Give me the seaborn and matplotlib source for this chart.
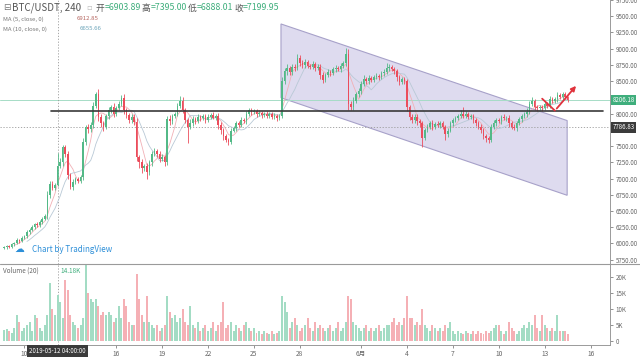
import numpy as np
import pandas as pd
import matplotlib
matplotlib.use("Agg")
import matplotlib.pyplot as plt
import matplotlib.transforms as mtransforms
from matplotlib.patches import Polygon
import seaborn as sns

# ---------------- data (4h candles, BTC/USDT) ----------------
first_open = 5930
closes = [
    5940, 5960, 5950, 5985, 6010, 6050, 6040, 6090, 6110, 6180,
    6210, 6260, 6300, 6280, 6330, 6380, 6420, 6750, 6920, 6860,
    6903.89, 7199.95, 7250, 7480, 7380, 7050, 6870, 6950, 6990, 6970,
    7030, 7560, 7790, 7760, 7830, 8120, 8300, 7950, 7850, 7800,
    7960, 8050, 8100, 8000, 8080, 8150, 8245, 8050, 7980, 7900,
    7950, 7870, 7325, 7250, 7170, 7200, 7100, 7250, 7380, 7430,
    7380, 7300, 7330, 7250, 7920, 7880, 7960, 8000, 8120, 8200,
    8050, 7900, 7800, 7860, 7920, 7880, 7950, 7930, 7960, 7900,
    7950, 7980, 7940, 7970, 7820, 7750, 7650, 7600, 7570, 7740,
    7780, 7850, 7830, 7900, 7880, 8000, 8050, 8020, 8040, 7990,
    8010, 7980, 8000, 7970, 8000, 7950, 7970, 7930, 7960, 8500,
    8650, 8700, 8640, 8720, 8700, 8860, 8780, 8750, 8800, 8730,
    8720, 8760, 8700, 8720, 8600, 8520, 8600, 8640, 8620, 8680,
    8700, 8680, 8740, 8780, 8920, 8150, 8100, 8200, 8300, 8350,
    8460, 8540, 8500, 8550, 8520, 8560, 8580, 8560, 8620, 8640,
    8700, 8720, 8680, 8650, 8560, 8480, 8530, 8500, 8100, 7950,
    7900, 7950, 7880, 7850, 7630, 7750, 7800, 7850, 7800, 7840,
    7820, 7850, 7800, 7680, 7740, 7850, 7900, 7940, 7960, 8000,
    7970, 8000, 7950, 7960, 7900, 7860, 7800, 7750, 7650, 7620,
    7600, 7800, 7850, 7900, 7880, 7950, 7930, 7940, 7850, 7800,
    7780, 7850, 7910, 7960, 7990, 8030, 8150, 8200, 8100, 8080,
    8100, 8080, 8150, 8120, 8230, 8200, 8220, 8280, 8250, 8300,
    8250, 8206.18]
upper_wick = [
    20, 15, 20, 25, 20, 30, 20, 25, 20, 30,
    25, 30, 20, 30, 25, 30, 40, 60, 40, 50,
    30, 195.05, 60, 30, 40, 50, 30, 40, 30, 40,
    30, 60, 40, 50, 40, 60, 30, 80, 40, 30,
    40, 50, 40, 60, 30, 40, 45, 50, 40, 30,
    40, 50, 60, 40, 50, 30, 40, 40, 50, 40,
    30, 40, 50, 30, 40, 60, 40, 30, 50, 70,
    60, 40, 30, 50, 40, 30, 50, 30, 40, 30,
    40, 30, 40, 30, 40, 50, 30, 40, 30, 40,
    30, 40, 30, 50, 30, 40, 30, 40, 30, 30,
    40, 30, 30, 40, 30, 30, 40, 30, 30, 60,
    50, 60, 40, 50, 40, 60, 40, 50, 40, 30,
    40, 50, 30, 40, 50, 40, 30, 40, 30, 40,
    50, 30, 40, 30, 90, 80, 40, 50, 40, 50,
    40, 50, 30, 40, 30, 40, 50, 30, 40, 50,
    80, 40, 30, 40, 30, 40, 30, 40, 30, 40,
    40, 50, 40, 30, 40, 30, 40, 30, 50, 30,
    40, 30, 40, 30, 40, 30, 40, 30, 40, 50,
    100, 40, 30, 40, 30, 40, 30, 40, 30, 40,
    30, 40, 50, 30, 40, 30, 40, 30, 40, 30,
    40, 30, 40, 30, 40, 50, 40, 60, 30, 40,
    30, 40, 50, 30, 40, 30, 40, 50, 30, 40,
    30, 20]
lower_wick = [
    20, 30, 20, 15, 25, 20, 30, 20, 25, 20,
    30, 20, 30, 25, 20, 30, 20, 40, 50, 40,
    40, 15.88, 40, 60, 50, 60, 30, 40, 30, 40,
    40, 50, 40, 60, 40, 50, 40, 60, 50, 60,
    40, 50, 40, 50, 40, 30, 40, 50, 40, 50,
    40, 50, 60, 80, 90, 60, 100, 40, 50, 40,
    50, 40, 30, 50, 40, 50, 40, 30, 40, 30,
    40, 50, 260, 40, 50, 40, 30, 40, 30, 40,
    30, 40, 30, 40, 50, 60, 50, 40, 50, 40,
    30, 40, 30, 40, 30, 40, 30, 40, 30, 40,
    30, 40, 30, 40, 30, 40, 30, 40, 30, 20,
    40, 50, 40, 50, 40, 30, 40, 50, 40, 30,
    40, 30, 40, 30, 60, 50, 40, 30, 40, 30,
    40, 30, 40, 30, 40, 100, 50, 40, 30, 40,
    50, 40, 50, 40, 30, 40, 30, 40, 30, 40,
    30, 40, 30, 40, 50, 40, 30, 40, 60, 50,
    50, 40, 50, 60, 150, 40, 30, 40, 50, 40,
    30, 40, 40, 90, 40, 30, 40, 30, 40, 30,
    40, 30, 40, 30, 40, 50, 40, 50, 40, 50,
    60, 40, 30, 40, 30, 40, 30, 40, 50, 40,
    30, 40, 30, 40, 30, 40, 30, 40, 50, 40,
    30, 40, 30, 40, 30, 40, 30, 40, 30, 40,
    30, 20]
volume_k = [
    3.5, 3.8, 3.0, 2.5, 4.0, 8.0, 6.0, 3.0, 4.0, 5.0,
    6.0, 3.0, 8.0, 7.0, 4.0, 3.0, 5.0, 8.0, 18.0, 10.0,
    8.0, 14.18, 12.0, 7.0, 19.0, 16.0, 8.0, 6.0, 5.0, 4.0,
    5.0, 7.0, 24.0, 15.0, 13.0, 12.0, 13.0, 11.0, 8.0, 9.0,
    8.0, 9.0, 8.0, 6.0, 7.0, 11.0, 7.0, 13.0, 11.0, 6.0,
    5.0, 5.0, 21.0, 13.0, 8.0, 6.0, 14.0, 6.0, 5.0, 4.0,
    5.0, 3.0, 4.0, 5.0, 14.0, 9.0, 7.0, 8.0, 6.0, 7.0,
    10.0, 6.0, 5.0, 11.0, 5.0, 4.0, 6.0, 3.0, 4.0, 5.0,
    3.0, 4.0, 6.0, 3.0, 5.0, 6.0, 12.0, 4.0, 5.0, 6.0,
    3.0, 5.0, 4.0, 3.0, 5.0, 6.0, 4.0, 3.0, 4.0, 2.5,
    3.0, 2.0, 3.0, 2.5, 2.0, 3.0, 2.0, 2.5, 3.0, 14.0,
    12.0, 9.0, 4.0, 6.0, 7.0, 5.0, 3.0, 4.0, 5.0, 7.0,
    4.0, 3.0, 6.0, 4.0, 5.0, 4.0, 3.0, 4.0, 5.0, 3.0,
    4.0, 6.0, 3.0, 4.0, 6.0, 14.0, 13.0, 6.0, 5.0, 4.0,
    3.0, 4.0, 5.0, 3.0, 4.0, 3.0, 4.0, 5.0, 3.0, 4.0,
    5.0, 5.0, 6.0, 7.0, 5.0, 6.0, 5.0, 7.0, 14.0, 7.0,
    7.0, 5.0, 6.0, 5.0, 10.0, 5.0, 4.0, 3.0, 5.0, 4.0,
    3.0, 4.0, 3.0, 5.0, 4.0, 6.0, 3.0, 2.0, 3.0, 2.5,
    2.0, 3.0, 2.5, 2.0, 3.0, 2.0, 3.0, 2.5, 2.0, 3.0,
    2.5, 3.0, 4.0, 5.0, 5.0, 3.0, 2.0, 3.0, 6.0, 4.0,
    3.0, 2.0, 3.0, 4.0, 5.0, 4.0, 6.0, 5.0, 8.0, 4.0,
    3.0, 8.0, 5.0, 4.0, 3.0, 4.0, 3.0, 8.0, 3.0, 3.0,
    3.0, 2.0]

price_ticks = [5750, 6000, 6250, 6500, 6750, 7000, 7250, 7500,
               8000, 8500, 8750, 9000, 9250, 9500, 9750]
volume_ticks = [0, 5000, 10000, 15000, 20000]
volume_tick_labels = ["0", "5K", "10K", "15K", "20K"]
day_tick_index = [8, 44, 62, 80, 98, 116, 140, 158, 176, 194, 212, 230]
day_tick_labels = ["10", "16", "19", "22", "25", "28", "6月", "4", "7", "10", "13", "16"]

support_price = 8040
support_span = [18.4, 234.9]
channel_index = [108.6, 220.8]
channel_upper = [9381, 7893]
channel_lower = [8245, 6742]
arrow_index = [211, 216, 225]
arrow_price = [8230, 8046, 8460]
last_price = 8206.18
cross_index = 21
cross_price = 7786.83
cross_label = "2019-05-12 04:00:00"
header_ohlc = [("开", "6903.89"), ("高", "7395.00"), ("低", "6888.01"), ("收", "7199.95")]
ma5_value, ma10_value, vol_value = "6912.85", "6655.66", "14.18K"

# ---------------- derived frame ----------------
n = len(closes)
idx = np.arange(n)
df = pd.DataFrame({"idx": idx, "close": closes})
df["open"] = [first_open] + closes[:-1]
df["high"] = np.maximum(df["open"], df["close"]) + np.array(upper_wick)
df["low"] = np.minimum(df["open"], df["close"]) - np.array(lower_wick)
df["vol"] = np.array(volume_k) * 1000
df["dir"] = np.where(df["close"] >= df["open"], "up", "down")
df["ma5"] = df["close"].rolling(5).mean()
df["ma10"] = df["close"].rolling(10).mean()

UP, DOWN = "#53b987", "#eb4d5c"
UP_V, DOWN_V = "#a3dcc4", "#f5b0b5"

sns.set_theme(style="white")
plt.rcParams["font.family"] = ["Noto Sans CJK SC", "DejaVu Sans"]

W, H = 640, 357
fig = plt.figure(figsize=(6.4, 3.57), dpi=100)
ax = fig.add_axes([0, 1 - 264 / H, 610 / W, 264 / H])
axv = fig.add_axes([0, 1 - 345 / H, 610 / W, (345 - 264) / H], sharex=ax)

xlim = (-1.57, 237.6)

# channel
poly = Polygon([(channel_index[0], channel_upper[0]), (channel_index[1], channel_upper[1]),
                (channel_index[1], channel_lower[1]), (channel_index[0], channel_lower[0])],
               closed=True, facecolor="#dedbef", edgecolor="#a7a1c9", lw=0.8, zorder=1)
ax.add_patch(poly)

# reference lines
ax.axhline(last_price, color="#a6dcc6", lw=0.7, zorder=2)
ax.axhline(cross_price, color="#9a9a9a", lw=0.6, ls=(0, (1.5, 2)), zorder=2)
ax.axvline(cross_index, color="#9a9a9a", lw=0.6, ls=(0, (1.5, 2)), zorder=2)
axv.axvline(cross_index, color="#9a9a9a", lw=0.6, ls=(0, (1.5, 2)), zorder=2)

# moving averages
sns.lineplot(data=df, x="idx", y="ma5", ax=ax, color="#f1b0b6", lw=0.6, zorder=3)
sns.lineplot(data=df, x="idx", y="ma10", ax=ax, color="#b9c9d6", lw=0.6, zorder=3)

# candles
colors = np.where(df["dir"] == "up", UP, DOWN)
ax.vlines(df["idx"], df["low"], df["high"], colors=colors, lw=0.6, zorder=4)
body_bottom = np.minimum(df["open"], df["close"])
body_h = np.maximum(np.abs(df["close"] - df["open"]), 8)
ax.bar(df["idx"], body_h, bottom=body_bottom, width=0.62, color=colors, lw=0, zorder=5)

# support line
ax.plot(support_span, [support_price, support_price], color="#3a3a3a", lw=1.2, zorder=6)

# red arrow
ax.plot(arrow_index[:2], arrow_price[:2], color="#e0333d", lw=1.3, zorder=7, solid_capstyle="round")
ax.annotate("", xy=(arrow_index[2], arrow_price[2]), xytext=(arrow_index[1], arrow_price[1]),
            arrowprops=dict(arrowstyle="-|>", color="#e0333d", lw=1.3, mutation_scale=7), zorder=7)

ax.set_xlim(*xlim)
ax.set_ylim(5684, 9733)
ax.set_xlabel("")
ax.set_ylabel("")
ax.yaxis.tick_right()
ax.set_yticks(price_ticks)
ax.set_yticklabels([f"{p:.2f}" for p in price_ticks])
ax.tick_params(axis="y", labelsize=4.5, colors="#666666", length=2, width=0.5, pad=2)
ax.tick_params(axis="x", bottom=False, labelbottom=False)
for s in ["top", "left", "bottom"]:
    ax.spines[s].set_visible(False)
ax.spines["right"].set_color("#9a9a9a")
ax.spines["right"].set_linewidth(0.7)

# price labels on axis
tr = mtransforms.blended_transform_factory(ax.transAxes, ax.transData)
ax.text(1.004, last_price, f"{last_price:.2f}", transform=tr, fontsize=4.4, color="white",
        va="center", ha="left", bbox=dict(boxstyle="square,pad=0.2", fc="#3fae7c", ec="none"), zorder=10)
ax.text(1.004, cross_price, f"{cross_price:.2f}", transform=tr, fontsize=4.4, color="white",
        va="center", ha="left", bbox=dict(boxstyle="square,pad=0.2", fc="#3b3b3b", ec="none"), zorder=10)

# volume
sns.barplot(data=df, x="idx", y="vol", hue="dir", palette={"up": UP_V, "down": DOWN_V},
            native_scale=True, dodge=False, width=0.78, errorbar=None, legend=False,
            saturation=1, ax=axv, linewidth=0, zorder=3)
axv.set_xlim(*xlim)
axv.set_ylim(-1340, 24000)
axv.set_xlabel("")
axv.set_ylabel("")
axv.yaxis.tick_right()
axv.set_yticks(volume_ticks)
axv.set_yticklabels(volume_tick_labels)
axv.tick_params(axis="y", labelsize=4.5, colors="#666666", length=2, width=0.5, pad=2)
axv.set_xticks(day_tick_index)
axv.set_xticklabels(day_tick_labels)
axv.tick_params(axis="x", labelsize=4.8, colors="#666666", length=2, width=0.5, pad=1.5, bottom=True)
for s in ["top", "left"]:
    axv.spines[s].set_visible(False)
for s in ["right", "bottom"]:
    axv.spines[s].set_color("#9a9a9a")
    axv.spines[s].set_linewidth(0.7)

trv = mtransforms.blended_transform_factory(axv.transData, axv.transAxes)
axv.text(cross_index, -(351 - 345) / 81, cross_label, transform=trv, fontsize=4.4, color="white",
         ha="center", va="center", bbox=dict(boxstyle="square,pad=0.3", fc="#3b3b3b", ec="none"),
         zorder=10, clip_on=False)

# pane separator
fig.add_artist(plt.Line2D([0, 1], [1 - 264 / H, 1 - 264 / H], color="#9a9a9a", lw=0.8))

# header texts
def ftext(x, y, s, **kw):
    fig.text(x / W, 1 - y / H, s, va="center", ha="left", **kw)

ftext(3, 8, "⊟", fontsize=6.5, color="#777777", family=["DejaVu Sans"])
ftext(12, 8, "BTC/USDT, 240", fontsize=7, color="#555555")
ftext(86, 8, "▫", fontsize=6, color="#bbbbbb", family=["DejaVu Sans"])
xs = [96, 142, 188, 234]
for x0, (lab, val) in zip(xs, header_ohlc):
    ftext(x0, 8, lab, fontsize=6.3, color="#555555")
    ftext(x0 + 9, 8, "=" + val, fontsize=6.3, color="#3fae7c")
ftext(3, 19, "MA (5, close, 0)", fontsize=4.3, color="#777777")
ftext(77, 19, ma5_value, fontsize=4.3, color="#b5655f")
ftext(3, 29, "MA (10, close, 0)", fontsize=4.3, color="#777777")
ftext(80, 29, ma10_value, fontsize=4.3, color="#6aa3b8")
ftext(3, 271, "Volume (20)", fontsize=4.6, color="#666666")
ftext(60, 271, vol_value, fontsize=4.6, color="#3fae7c")
ftext(32, 249, "Chart by TradingView", fontsize=5.8, color="#2d8fd8")
ftext(14, 249, "☁", fontsize=7, color="#2d8fd8", family=["DejaVu Sans"])

fig.savefig("out.png", dpi=100)
